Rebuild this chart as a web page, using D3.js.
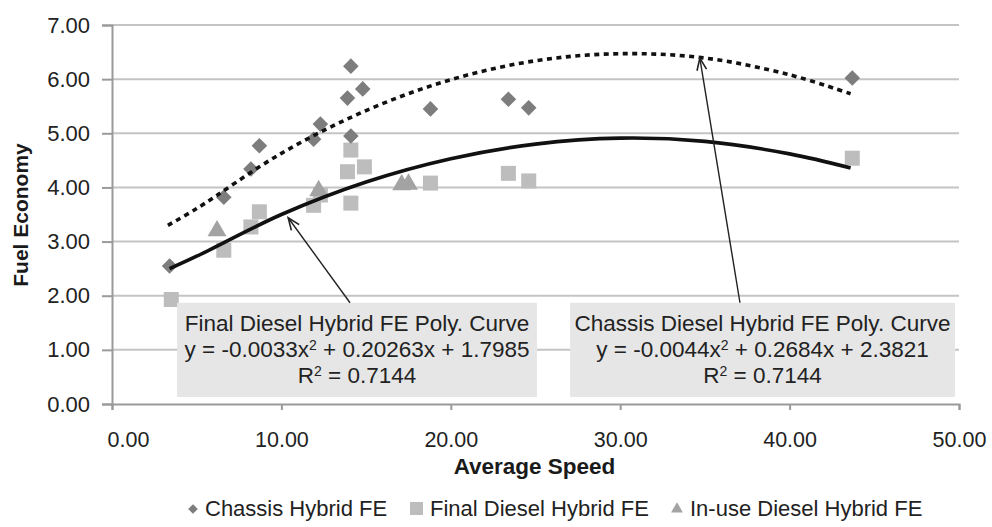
<!DOCTYPE html>
<html><head><meta charset="utf-8">
<script src="https://cdn.jsdelivr.net/npm/d3@7"></script>
<style>
html,body{margin:0;padding:0;background:#fff;}
svg{display:block;font-family:"Liberation Sans",Arial,Helvetica,sans-serif;}
</style></head>
<body><svg id="chart" width="992" height="527"></svg>
<script>
// ---- data ----
const xTicks = [0, 10, 20, 30, 40, 50];
const yTicks = [0, 1, 2, 3, 4, 5, 6, 7];
const xTickLabels = ["0.00", "10.00", "20.00", "30.00", "40.00", "50.00"];
const yTickLabels = ["0.00", "1.00", "2.00", "3.00", "4.00", "5.00", "6.00", "7.00"];

const chassisX = [3.4, 6.6, 8.2, 8.7, 11.9, 12.3, 14.1, 13.9, 14.8, 14.1, 18.8, 23.4, 24.6, 43.7];
const chassisY = [2.55, 3.82, 4.34, 4.77, 4.89, 5.17, 6.24, 5.65, 5.82, 4.95, 5.45, 5.63, 5.47, 6.02];

const finalX = [3.5, 6.6, 8.2, 8.7, 11.9, 12.3, 14.1, 13.9, 14.9, 14.1, 18.8, 23.4, 24.6, 43.7];
const finalY = [1.93, 2.84, 3.27, 3.55, 3.67, 3.86, 4.69, 4.29, 4.38, 3.71, 4.08, 4.26, 4.12, 4.54];

const inuseX = [6.2, 12.2, 17.1, 17.5];
const inuseY = [3.18, 3.92, 4.03, 4.04];

// trend curves
const chassisCurveX = [3.3, 5, 10, 15, 20, 25, 30, 35, 40, 43.6];
const chassisCurveY = [3.30, 3.61, 4.63, 5.42, 5.99, 6.34, 6.47, 6.39, 6.08, 5.73];
const finalCurveX = [3.4, 5, 10, 15, 20, 25, 30, 35, 40, 43.6];
const finalCurveY = [2.50, 2.73, 3.50, 4.10, 4.53, 4.80, 4.91, 4.85, 4.62, 4.36];

const seriesNames = ["Chassis Hybrid FE", "Final Diesel Hybrid FE", "In-use Diesel Hybrid FE"];
const annoTitles = ["Final Diesel Hybrid FE Poly. Curve", "Chassis Diesel Hybrid FE Poly. Curve"];
const annoEq1 = ["y = -0.0033x", "y = -0.0044x"];
const annoEq2 = [" + 0.20263x + 1.7985", " + 0.2684x + 2.3821"];
const annoR2 = ["0.7144", "0.7144"];
// annotation boxes in data units: [x0, x1, yTop, yBottom], arrow [fromX, fromY, toX, toY]
const annoBox0 = [3.84, 25.09, 1.87, 0.13];
const annoBox1 = [27.04, 49.76, 1.87, 0.13];
const annoArrow0 = [14.05, 1.87, 10.4, 3.44];
const annoArrow1 = [37.07, 1.87, 34.7, 6.39];

// ---- layout ----
const svg = d3.select("#chart");
const L = 112, R = 959, T = 25, B = 404;
const x = d3.scaleLinear().domain([0, 50]).range([L, R]);
const y = d3.scaleLinear().domain([0, 7]).range([B, T]);
const FS = 22;
const textCol = "#222";

// gridlines
svg.append("g").selectAll("line").data(yTicks.filter(d => d > 0)).join("line")
  .attr("x1", L).attr("x2", R).attr("y1", d => y(d)).attr("y2", d => y(d))
  .attr("stroke", "#c4c4c4").attr("stroke-width", 2);

// y axis
const yAxis = d3.axisLeft(y).tickValues(yTicks).tickFormat((d, i) => yTickLabels[i]).tickSize(10).tickPadding(12);
const gy = svg.append("g").attr("transform", `translate(${L},0)`).call(yAxis);
gy.select(".domain").attr("stroke", "#9a9a9a").attr("stroke-width", 2);
gy.selectAll(".tick line").attr("stroke", "#9a9a9a").attr("stroke-width", 2);
gy.selectAll(".tick text").attr("font-size", FS).attr("fill", textCol).attr("font-family", null);

// x axis
const xAxis = d3.axisBottom(x).tickValues(xTicks).tickFormat((d, i) => xTickLabels[i]).tickSize(6).tickPadding(22);
const gx = svg.append("g").attr("transform", `translate(0,${B})`).call(xAxis);
gx.select(".domain").attr("stroke", "#9a9a9a").attr("stroke-width", 2);
gx.selectAll(".tick line").attr("stroke", "#9a9a9a").attr("stroke-width", 2);
gx.selectAll(".tick text").attr("font-size", FS - 0.5).attr("fill", textCol).attr("font-family", null)
  .attr("dx", (d, i) => i === 0 ? 16 : 0);

// axis titles
svg.append("text").attr("x", (L + R) / 2 - 1).attr("y", 474).attr("text-anchor", "middle")
  .attr("font-size", 22.5).attr("font-weight", "bold").attr("fill", "#1a1a1a").text("Average Speed");
svg.append("text").attr("transform", "translate(28,215) rotate(-90)").attr("text-anchor", "middle")
  .attr("font-size", 21).attr("font-weight", "bold").attr("fill", "#1a1a1a").text("Fuel Economy");

// markers
const diamond = d3.symbol().type(d3.symbolDiamond2).size(155);
const triangle = d3.symbol().type(d3.symbolTriangle).size(155);
const colChassis = "#7d7d7d", colFinal = "#bdbdbd", colInuse = "#a3a3a3";

svg.append("g").selectAll("rect").data(d3.range(finalX.length)).join("rect")
  .attr("x", i => x(finalX[i]) - 7.5).attr("y", i => y(finalY[i]) - 7.5)
  .attr("width", 15).attr("height", 15).attr("fill", colFinal);
svg.append("g").selectAll("path").data(d3.range(inuseX.length)).join("path")
  .attr("d", triangle).attr("transform", i => `translate(${x(inuseX[i])},${y(inuseY[i]) - 1})`)
  .attr("fill", colInuse);
svg.append("g").selectAll("path").data(d3.range(chassisX.length)).join("path")
  .attr("d", diamond).attr("transform", i => `translate(${x(chassisX[i])},${y(chassisY[i])})`)
  .attr("fill", colChassis);

// trend curves
const line = d3.line().x(d => x(d[0])).y(d => y(d[1])).curve(d3.curveCatmullRom);
svg.append("path").datum(d3.zip(chassisCurveX, chassisCurveY)).attr("d", line)
  .attr("fill", "none").attr("stroke", "#111").attr("stroke-width", 3.6)
  .attr("stroke-dasharray", "5,4.5");
svg.append("path").datum(d3.zip(finalCurveX, finalCurveY)).attr("d", line)
  .attr("fill", "none").attr("stroke", "#111").attr("stroke-width", 3.6);

// annotation boxes
const boxes = [annoBox0, annoBox1];
const arrows = [annoArrow0, annoArrow1];
boxes.forEach((b, i) => {
  svg.append("rect").attr("x", x(b[0])).attr("y", y(b[2]))
    .attr("width", x(b[1]) - x(b[0])).attr("height", y(b[3]) - y(b[2]))
    .attr("fill", "#e6e6e6");
  const cx = (x(b[0]) + x(b[1])) / 2;
  const top = y(b[2]);
  const g = svg.append("g").attr("font-size", 22.5).attr("fill", textCol).attr("text-anchor", "middle");
  g.append("text").attr("x", cx).attr("y", top + 28).text(annoTitles[i]);
  const t2 = g.append("text").attr("x", cx).attr("y", top + 54);
  t2.append("tspan").text(annoEq1[i]);
  t2.append("tspan").attr("font-size", 14).attr("dy", -7).text("2");
  t2.append("tspan").attr("dy", 7).text(annoEq2[i]);
  const t3 = g.append("text").attr("x", cx).attr("y", top + 80);
  t3.append("tspan").text("R");
  t3.append("tspan").attr("font-size", 14).attr("dy", -7).text("2");
  t3.append("tspan").attr("dy", 7).text(" = " + annoR2[i]);
});

// arrows
arrows.forEach(a => {
  const x1 = x(a[0]), y1 = y(a[1]), x2 = x(a[2]), y2 = y(a[3]);
  svg.append("line").attr("x1", x1).attr("y1", y1).attr("x2", x2).attr("y2", y2)
    .attr("stroke", "#222").attr("stroke-width", 1.4);
  const ang = Math.atan2(y1 - y2, x1 - x2);
  const hl = 13, spread = 0.38;
  const p1 = [x2 + hl * Math.cos(ang - spread), y2 + hl * Math.sin(ang - spread)];
  const p2 = [x2 + hl * Math.cos(ang + spread), y2 + hl * Math.sin(ang + spread)];
  svg.append("path").attr("d", `M${p1[0]},${p1[1]}L${x2},${y2}L${p2[0]},${p2[1]}`)
    .attr("fill", "none").attr("stroke", "#222").attr("stroke-width", 1.6);
});

// legend
const lg = svg.append("g").attr("font-size", 22).attr("fill", textCol);
const legendX = [205, 430, 690];
const legendY = 516;
lg.append("path").attr("d", d3.symbol().type(d3.symbolDiamond2).size(60))
  .attr("transform", `translate(${legendX[0] - 12},${legendY - 7})`).attr("fill", colChassis);
lg.append("rect").attr("x", legendX[1] - 20).attr("y", legendY - 14).attr("width", 13).attr("height", 13).attr("fill", colFinal);
lg.append("path").attr("d", d3.symbol().type(d3.symbolTriangle).size(60))
  .attr("transform", `translate(${legendX[2] - 13},${legendY - 7})`).attr("fill", colInuse);
seriesNames.forEach((n, i) => {
  lg.append("text").attr("x", legendX[i]).attr("y", legendY).text(n);
});
</script></body></html>
